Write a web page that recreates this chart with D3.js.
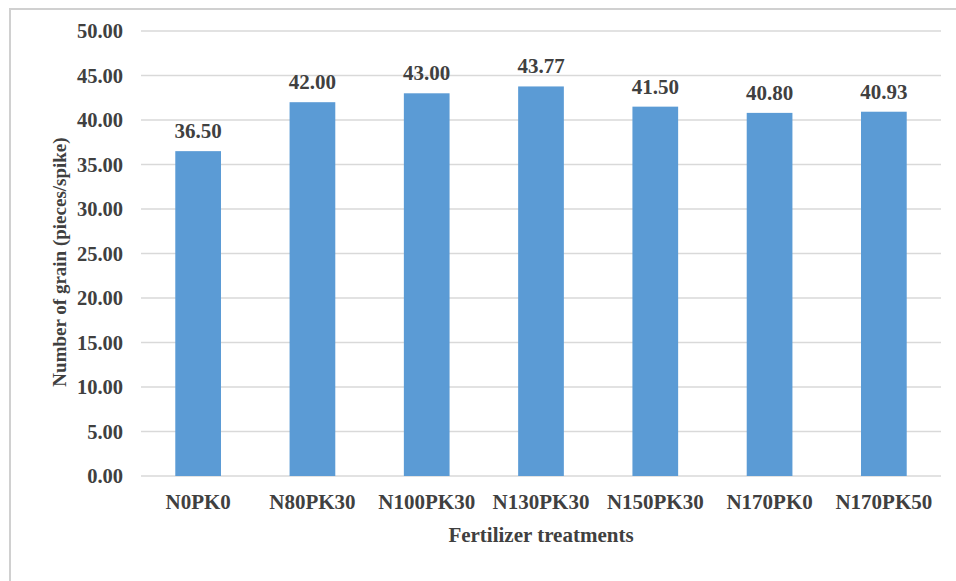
<!DOCTYPE html>
<html>
<head>
<meta charset="utf-8">
<script src="https://cdn.jsdelivr.net/npm/d3@7"></script>
<style>
  body { margin: 0; background: #fff; }
</style>
</head>
<body>
<svg id="chart" width="956" height="581"></svg>
<script>
const treatments = ["N0PK0", "N80PK30", "N100PK30", "N130PK30", "N150PK30", "N170PK0", "N170PK50"];
const grains = [36.50, 42.00, 43.00, 43.77, 41.50, 40.80, 40.93];
const yTicks = [0, 5, 10, 15, 20, 25, 30, 35, 40, 45, 50];

const font = "Liberation Serif";
const ink = "#404040";

const svg = d3.select("#chart");
const margin = { left: 141, right: 15, top: 31, bottom: 105 };
const width = 956, height = 581;

// outer frame
svg.append("rect")
  .attr("x", 10).attr("y", 9)
  .attr("width", 960).attr("height", 600)
  .attr("fill", "none")
  .attr("stroke", "#d0d0d0")
  .attr("stroke-width", 2);

const x = d3.scaleBand()
  .domain(treatments)
  .range([margin.left, width - margin.right])
  .paddingInner(0.6)
  .paddingOuter(0.3);

const y = d3.scaleLinear()
  .domain([0, 50])
  .range([height - margin.bottom, margin.top]);

// gridlines
svg.append("g")
  .selectAll("line")
  .data(yTicks)
  .enter()
  .append("line")
  .attr("x1", margin.left)
  .attr("x2", width - margin.right)
  .attr("y1", d => y(d))
  .attr("y2", d => y(d))
  .attr("stroke", "#d9d9d9")
  .attr("stroke-width", 1.5);

function serif(sel, size) {
  sel.attr("font-family", font)
    .attr("font-size", size)
    .attr("font-weight", "bold")
    .attr("fill", ink);
}

// y axis labels
const yAxis = d3.axisLeft(y).tickValues(yTicks).tickFormat(d3.format(".2f")).tickSize(0).tickPadding(18);
const gy = svg.append("g").attr("transform", "translate(" + margin.left + ",0)").call(yAxis);
gy.select(".domain").remove();
gy.attr("font-family", null).attr("font-size", null);
gy.selectAll("text").call(serif, 20.5);

// x axis labels
const xAxis = d3.axisBottom(x).tickSize(0).tickPadding(18);
const gx = svg.append("g").attr("transform", "translate(0," + y(0) + ")").call(xAxis);
gx.select(".domain").remove();
gx.attr("font-family", null).attr("font-size", null);
gx.selectAll("text").call(serif, 21);

// bars
svg.append("g")
  .selectAll("rect")
  .data(grains)
  .enter()
  .append("rect")
  .attr("x", (d, i) => x(treatments[i]))
  .attr("y", d => y(d))
  .attr("width", x.bandwidth())
  .attr("height", d => y(0) - y(d))
  .attr("fill", "#5b9bd5");

// value labels
svg.append("g")
  .selectAll("text")
  .data(grains)
  .enter()
  .append("text")
  .attr("x", (d, i) => x(treatments[i]) + x.bandwidth() / 2)
  .attr("y", d => y(d) - 13)
  .attr("text-anchor", "middle")
  .call(serif, 21)
  .text(d => d.toFixed(2));

// axis titles
svg.append("text")
  .attr("x", 541)
  .attr("y", 542)
  .attr("text-anchor", "middle")
  .call(serif, 21)
  .text("Fertilizer treatments");

svg.append("text")
  .attr("transform", "translate(66,262) rotate(-90)")
  .attr("text-anchor", "middle")
  .call(serif, 19)
  .text("Number of grain (pieces/spike)");
</script>
</body>
</html>
